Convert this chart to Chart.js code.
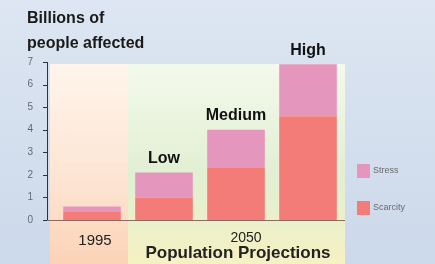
<!DOCTYPE html>
<html>
<head>
<meta charset="utf-8">
<script src="https://cdn.jsdelivr.net/npm/chart.js@4.4.1/dist/chart.umd.min.js"></script>
<style>
  html, body { margin: 0; padding: 0; }
  body { width: 435px; height: 264px; background: linear-gradient(180deg, #dde6f2 0%, #ccd9ea 100%); overflow: hidden; }
  #wrap { position: relative; width: 435px; height: 264px; }
</style>
</head>
<body>
<div id="wrap"><canvas id="chart" width="435" height="264"></canvas></div>
<script>
// categories and values (billions of people)
var categories = ["1995", "Low", "Medium", "High"];
var scarcity = [0.35, 1.0, 2.3, 4.6];
var stress = [0.25, 1.1, 1.7, 2.3];
var barLabels = ["", "Low", "Medium", "High"];
var yTicks = [0, 1, 2, 3, 4, 5, 6, 7];

var font = "'Liberation Sans', Arial, sans-serif";
var axisX = 47;

// background panels + axis + bottom labels + title + legend
var decor = {
    id: "decor",
    beforeDatasetsDraw: function(chart) {
        var ctx = chart.ctx, x = chart.scales.x, y = chart.scales.y, a = chart.chartArea;
        var step = x.getPixelForValue(1) - x.getPixelForValue(0);
        var split = x.getPixelForValue(0) + step / 2;
        var left = x.getPixelForValue(0) - step / 2 - 6;
        var right = x.getPixelForValue(3) + step / 2 + 1;
        var top = a.top + 2, bot = chart.height;

        var g1 = ctx.createLinearGradient(0, top, 0, bot);
        g1.addColorStop(0, "#fff5ec");
        g1.addColorStop(0.6, "#fde4d2");
        g1.addColorStop(1, "#fbd3b6");
        ctx.fillStyle = g1;
        ctx.fillRect(left, top, split - left, bot - top);

        var g2 = ctx.createLinearGradient(0, top, 0, bot);
        g2.addColorStop(0, "#f4f9ec");
        g2.addColorStop(0.55, "#e1efd3");
        g2.addColorStop(1, "#f5f1c2");
        ctx.fillStyle = g2;
        ctx.fillRect(split, top, right - split, bot - top);

        // y axis line and tick marks
        ctx.strokeStyle = "#333";
        ctx.lineWidth = 1;
        ctx.beginPath();
        ctx.moveTo(axisX + 0.5, y.getPixelForValue(7));
        ctx.lineTo(axisX + 0.5, y.getPixelForValue(0));
        yTicks.forEach(function(v) {
            var py = Math.round(y.getPixelForValue(v)) + 0.5;
            ctx.moveTo(axisX - 4, py);
            ctx.lineTo(axisX + 1, py);
        });
        ctx.stroke();
    },
    afterDatasetsDraw: function(chart) {
        var ctx = chart.ctx, x = chart.scales.x, a = chart.chartArea;
        var meta1 = chart.getDatasetMeta(1);

        // base line
        ctx.strokeStyle = "#8a6a60";
        ctx.lineWidth = 1;
        ctx.beginPath();
        ctx.moveTo(axisX, a.bottom + 0.5);
        ctx.lineTo(x.getPixelForValue(3) + 37, a.bottom + 0.5);
        ctx.stroke();

        // labels above bars
        ctx.fillStyle = "#111";
        ctx.font = "bold 16px " + font;
        ctx.textAlign = "center";
        ctx.textBaseline = "bottom";
        for (var i = 0; i < barLabels.length; i++) {
            if (!barLabels[i]) continue;
            var el = meta1.data[i];
            ctx.fillText(barLabels[i], el.x, el.y - 6);
        }

        // x labels
        ctx.fillStyle = "#222";
        ctx.font = "15px " + font;
        ctx.textBaseline = "alphabetic";
        ctx.fillText(categories[0], x.getPixelForValue(0) + 3, a.bottom + 25);
        ctx.font = "14px " + font;
        ctx.fillText("2050", x.getPixelForValue(2) + 10, a.bottom + 22);
        ctx.font = "bold 17px " + font;
        ctx.fillText("Population Projections", x.getPixelForValue(2) + 2, a.bottom + 38);

        // title
        ctx.textAlign = "left";
        ctx.fillStyle = "#1a1a1a";
        ctx.font = "bold 16px " + font;
        ctx.fillText("Billions of", 27, 23);
        ctx.fillText("people affected", 27, 48);

        // legend
        var items = [[chart.data.datasets[1], 164], [chart.data.datasets[0], 201]];
        ctx.font = "9px " + font;
        ctx.textBaseline = "middle";
        items.forEach(function(it) {
            ctx.fillStyle = it[0].backgroundColor;
            ctx.fillRect(357, it[1], 13, 14);
            ctx.fillStyle = "#6a6a6a";
            ctx.fillText(it[0].label, 373, it[1] + 7);
        });
    }
};

new Chart(document.getElementById("chart"), {
    type: "bar",
    data: {
        labels: categories,
        datasets: [
            { label: "Scarcity", data: scarcity, backgroundColor: "#f47c78", barPercentage: 0.8, categoryPercentage: 1 },
            { label: "Stress", data: stress, backgroundColor: "#e596bd", barPercentage: 0.8, categoryPercentage: 1 }
        ]
    },
    options: {
        responsive: false,
        animation: false,
        layout: { padding: { left: 0, right: 91, top: 62, bottom: 44 } },
        plugins: { legend: { display: false }, tooltip: { enabled: false } },
        scales: {
            x: {
                stacked: true,
                grid: { display: false, drawTicks: false },
                border: { display: false },
                ticks: { display: false }
            },
            y: {
                stacked: true,
                min: 0, max: 7,
                afterBuildTicks: function(s) { s.ticks = yTicks.map(function(v) { return { value: v }; }); },
                afterFit: function(s) { s.width = 56; },
                grid: { display: false },
                border: { display: false },
                ticks: { color: "#667", font: { size: 10, family: font }, padding: 15 }
            }
        }
    },
    plugins: [decor]
});
</script>
</body>
</html>
